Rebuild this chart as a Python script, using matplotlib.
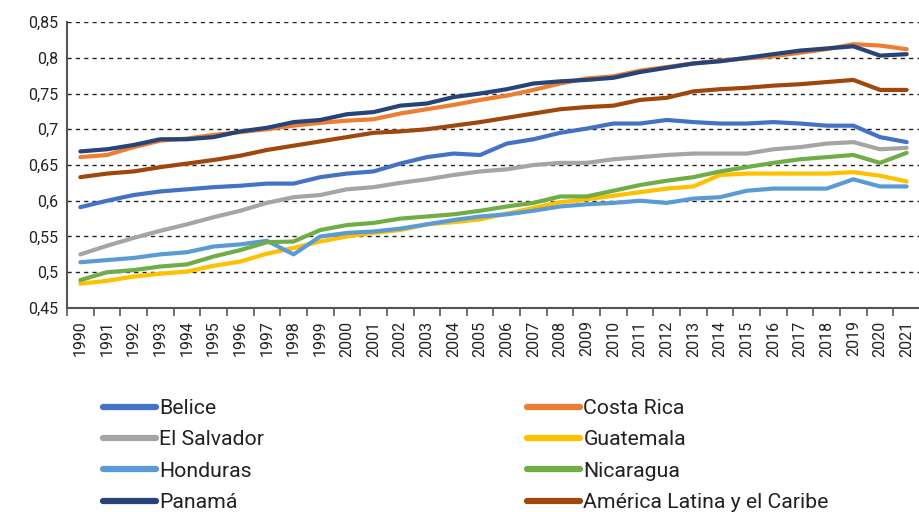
"""Índice por país, Centroamérica 1990-2021 (recreación del gráfico de líneas)."""

import matplotlib

matplotlib.use("Agg")
import matplotlib.pyplot as plt
from matplotlib.ticker import FixedLocator, FuncFormatter

years = list(range(1990, 2022))

belice = [0.591, 0.600, 0.608, 0.613, 0.616, 0.619, 0.621, 0.624, 0.624, 0.633,
          0.638, 0.641, 0.652, 0.661, 0.666, 0.664, 0.680, 0.686, 0.695, 0.701,
          0.708, 0.708, 0.713, 0.710, 0.708, 0.708, 0.710, 0.708, 0.705, 0.705,
          0.689, 0.682]
costa_rica = [0.661, 0.664, 0.675, 0.684, 0.687, 0.692, 0.696, 0.700, 0.705, 0.709,
              0.712, 0.714, 0.722, 0.728, 0.734, 0.741, 0.747, 0.755, 0.764, 0.771,
              0.774, 0.782, 0.787, 0.792, 0.796, 0.799, 0.802, 0.807, 0.812, 0.819,
              0.817, 0.812]
el_salvador = [0.525, 0.537, 0.548, 0.558, 0.567, 0.577, 0.586, 0.597, 0.605, 0.608,
               0.616, 0.619, 0.625, 0.630, 0.636, 0.641, 0.644, 0.650, 0.653, 0.653,
               0.658, 0.661, 0.664, 0.666, 0.666, 0.666, 0.672, 0.675, 0.680, 0.682,
               0.672, 0.674]
guatemala = [0.484, 0.488, 0.494, 0.498, 0.501, 0.509, 0.515, 0.526, 0.534, 0.543,
             0.550, 0.555, 0.559, 0.567, 0.570, 0.574, 0.582, 0.590, 0.598, 0.602,
             0.607, 0.612, 0.617, 0.620, 0.636, 0.638, 0.638, 0.638, 0.638, 0.640,
             0.635, 0.627]
honduras = [0.514, 0.517, 0.520, 0.525, 0.528, 0.536, 0.539, 0.544, 0.525, 0.550,
            0.555, 0.557, 0.561, 0.567, 0.573, 0.578, 0.581, 0.586, 0.592, 0.595,
            0.597, 0.600, 0.597, 0.603, 0.605, 0.614, 0.617, 0.617, 0.617, 0.630,
            0.620, 0.620]
nicaragua = [0.489, 0.500, 0.503, 0.508, 0.511, 0.522, 0.531, 0.542, 0.543, 0.559,
             0.566, 0.569, 0.575, 0.578, 0.581, 0.586, 0.592, 0.597, 0.606, 0.606,
             0.614, 0.622, 0.628, 0.633, 0.641, 0.647, 0.653, 0.658, 0.661, 0.664,
             0.653, 0.667]
panama = [0.669, 0.672, 0.678, 0.686, 0.686, 0.689, 0.697, 0.702, 0.710, 0.713,
          0.721, 0.724, 0.733, 0.736, 0.745, 0.750, 0.756, 0.764, 0.767, 0.769,
          0.772, 0.780, 0.786, 0.792, 0.795, 0.800, 0.805, 0.810, 0.813, 0.816,
          0.803, 0.805]
america_latina = [0.633, 0.638, 0.641, 0.647, 0.652, 0.657, 0.663, 0.671, 0.677, 0.683,
                  0.689, 0.695, 0.697, 0.700, 0.705, 0.710, 0.716, 0.722, 0.728, 0.731,
                  0.733, 0.741, 0.744, 0.753, 0.756, 0.758, 0.761, 0.763, 0.766, 0.769,
                  0.755, 0.755]

series = [
    ("Belice", belice, "#4472C4"),
    ("Costa Rica", costa_rica, "#ED7D31"),
    ("El Salvador", el_salvador, "#A5A5A5"),
    ("Guatemala", guatemala, "#FFC000"),
    ("Honduras", honduras, "#5B9BD5"),
    ("Nicaragua", nicaragua, "#70AD47"),
    ("Panamá", panama, "#264478"),
    ("América Latina y el Caribe", america_latina, "#9E480E"),
]

y_ticks = [0.45, 0.5, 0.55, 0.6, 0.65, 0.7, 0.75, 0.8, 0.85]

plt.rcParams["font.family"] = ["Roboto", "DejaVu Sans"]

fig = plt.figure(figsize=(9.2, 5.12), dpi=100)
ax = fig.add_axes([67 / 920, 1 - 308 / 512, 853 / 920, (308 - 22) / 512])

x = list(range(len(years)))
handles = []
for name, values, color in series:
    (line,) = ax.plot(x, values, color=color, linewidth=3.0, label=name,
                      solid_capstyle="round", solid_joinstyle="round")
    handles.append(line)

ax.set_xlim(-0.5, len(years) - 0.5)
ax.set_ylim(0.45, 0.85)

ax.set_yticks(y_ticks)
ax.yaxis.set_major_formatter(FuncFormatter(lambda v, _: f"{v:.2f}".rstrip("0").replace(".", ",")))
ax.tick_params(axis="y", length=0, labelsize=11.5, pad=6, colors="#222222")

ax.set_xticks(x)
ax.set_xticklabels([str(y) for y in years], rotation=90)
ax.xaxis.set_minor_locator(FixedLocator([i - 0.5 for i in range(len(years) + 1)]))
ax.tick_params(axis="x", which="major", length=0, labelsize=11.5, pad=9, colors="#222222")
ax.tick_params(axis="x", which="minor", length=6, width=1.2, color="#555555")

for v in y_ticks[1:]:
    ax.axhline(v, color="#222222", linestyle=(0, (3, 3)), linewidth=1.0, zorder=0)

for side in ("top", "right"):
    ax.spines[side].set_visible(False)
for side in ("left", "bottom"):
    ax.spines[side].set_color("#555555")
    ax.spines[side].set_linewidth(1.5)

leg_kw = dict(frameon=False, fontsize=15.3, handlelength=2.5, handletextpad=0.15,
              labelspacing=0.58, borderaxespad=0, borderpad=0)
leg1 = fig.legend(handles=handles[0::2], loc="upper left",
                  bbox_to_anchor=(103 / 920, 1 - 399 / 512), **leg_kw)
leg2 = fig.legend(handles=handles[1::2], loc="upper left",
                  bbox_to_anchor=(527 / 920, 1 - 399 / 512), **leg_kw)
for leg in (leg1, leg2):
    for h in leg.legend_handles:
        h.set_linewidth(4.5)
        h.set_solid_capstyle("round")
    for t in leg.get_texts():
        t.set_color("#222222")

fig.savefig("out.png", dpi=100)
